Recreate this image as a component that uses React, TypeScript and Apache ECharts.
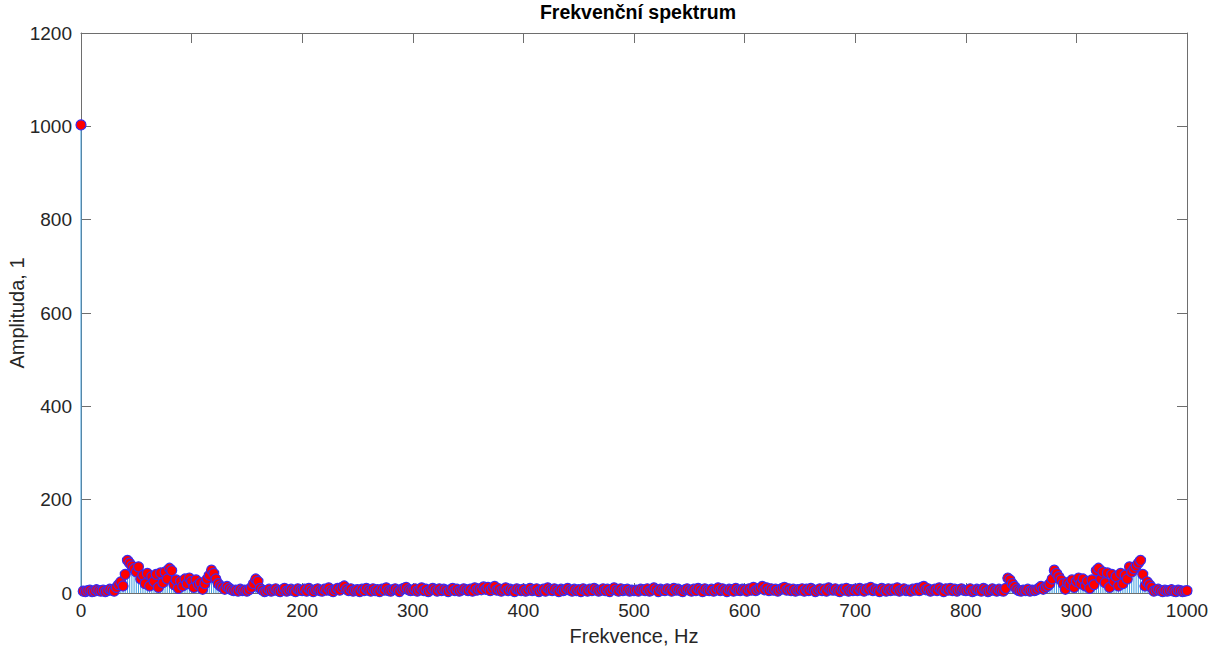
import React, { useEffect, useRef } from "react";
import * as echarts from "echarts";

// Frequency grid step (Hz) – sample spacing of the spectrum
const FREQ_STEP = 2;

// Amplitudes, f = 0, 2, 4, ... , 1000 Hz
const AMP_0_198 = [
  1003, 4, 3, 5, 6, 3, 4, 7, 5, 4, 6, 3, 5, 8, 6, 4, 12, 18, 24, 15, 40, 70, 64, 58, 52,
  45, 56, 30, 38, 20, 42, 15, 35, 25, 40, 12, 43, 22, 45, 30, 53, 48, 18, 28, 10, 25, 15, 30, 20, 32,
  25, 12, 28, 18, 22, 8, 20, 30, 38, 49, 42, 30, 20, 15, 12, 8, 14, 10, 7, 5, 6, 4, 8, 5, 6,
  4, 7, 12, 20, 30, 25, 10, 6, 3, 5, 8, 4, 6, 9, 5, 3, 7, 10, 4, 6, 8, 5, 3, 9, 6,
];
const AMP_200_798 = [
  5, 8, 4, 10, 6, 3, 7, 9, 5, 4, 8, 6, 11, 5, 3, 7, 10, 6, 12, 15, 8, 5, 9, 4, 6,
  7, 3, 8, 5, 10, 6, 4, 9, 5, 7, 3, 8, 6, 11, 5, 4, 7, 9, 6, 3, 8, 10, 12, 7, 5,
  6, 9, 4, 7, 11, 5, 8, 3, 6, 10, 7, 4, 9, 5, 8, 6, 3, 7, 10, 5, 8, 4, 6, 9, 7,
  5, 8, 4, 11, 6, 9, 7, 13, 8, 12, 5, 10, 14, 6, 9, 4, 7, 11, 5, 8, 6, 3, 9, 7, 5,
  8, 4, 6, 10, 5, 7, 9, 3, 6, 8, 4, 11, 7, 5, 9, 6, 3, 8, 5, 7, 10, 6, 4, 8, 5,
  7, 3, 9, 6, 4, 8, 5, 10, 7, 4, 6, 9, 5, 8, 3, 7, 11, 6, 4, 9, 5, 7, 8, 4, 6,
  5, 6, 4, 8, 7, 5, 9, 4, 6, 11, 7, 3, 8, 6, 5, 9, 7, 4, 10, 6, 8, 5, 3, 7, 9,
  6, 4, 8, 5, 10, 7, 3, 9, 6, 5, 8, 4, 7, 11, 5, 9, 6, 3, 8, 7, 4, 10, 6, 5, 8,
  7, 4, 9, 6, 12, 5, 8, 10, 14, 7, 11, 5, 9, 6, 8, 4, 7, 10, 12, 6, 9, 5, 8, 4, 7,
  6, 9, 4, 8, 5, 10, 7, 3, 6, 9, 5, 8, 4, 11, 7, 6, 9, 5, 3, 8, 6, 10, 4, 7, 5,
  8, 5, 10, 6, 4, 9, 7, 12, 5, 8, 6, 3, 10, 7, 4, 9, 5, 8, 6, 11, 4, 7, 9, 5, 6,
  4, 8, 6, 10, 5, 12, 14, 7, 9, 4, 6, 8, 5, 11, 7, 3, 9, 6, 10, 5, 8, 4, 7, 9, 6,
];
const AMP_800_1000 = [
  5, 6, 9, 3, 5, 8, 6, 4, 10, 7, 3, 5, 9, 6, 4, 8, 5, 4, 10, 32, 28, 20, 14, 8, 5,
  4, 6, 5, 8, 4, 6, 5, 7, 10, 14, 8, 12, 15, 20, 30, 49, 42, 35, 28, 20, 8, 22, 18, 28, 12,
  25, 32, 20, 30, 15, 25, 10, 28, 18, 48, 53, 30, 45, 22, 43, 12, 40, 25, 35, 15, 42, 20, 38, 30, 56,
  45, 52, 58, 64, 70, 40, 15, 24, 18, 12, 4, 6, 8, 5, 3, 6, 4, 5, 7, 4, 3, 6, 5, 3, 4,
  5,
];

const AMPLITUDES = [...AMP_0_198, ...AMP_200_798, ...AMP_800_1000];

const X_TICKS = { min: 0, max: 1000, interval: 100 };
const Y_TICKS = { min: 0, max: 1200, interval: 200 };

const TEXT = "#262626";
const AXIS = "#6e6e6e";
const FONT = "'Liberation Sans', Arial, Helvetica, sans-serif";

export default function App() {
  const ref = useRef<HTMLDivElement>(null);

  useEffect(() => {
    if (!ref.current) return;
    const chart = echarts.init(ref.current, undefined, { renderer: "svg" });
    const data = AMPLITUDES.map((a, i) => [i * FREQ_STEP, a]);

    const axisCommon = {
      axisLine: { show: true, onZero: false, lineStyle: { color: AXIS, width: 1 } },
      axisTick: { show: true, inside: true, length: 10, lineStyle: { color: AXIS } },
      splitLine: { show: false },
    };
    const fmt = (v: number) => String(v);

    chart.setOption({
      animation: false,
      backgroundColor: "#ffffff",
      textStyle: { fontFamily: FONT },
      title: {
        text: "Frekvenční spektrum",
        left: 638,
        top: 2,
        padding: 0,
        textAlign: "center",
        textStyle: { fontFamily: FONT, fontSize: 19.5, fontWeight: "bold", color: "#000" },
      },
      grid: {
        left: 81,
        right: 40,
        top: 33,
        bottom: 62,
        containLabel: false,
        outerBoundsMode: "none",
      },
      xAxis: [
        {
          type: "value",
          position: "bottom",
          ...X_TICKS,
          ...axisCommon,
          name: "Frekvence, Hz",
          nameLocation: "middle",
          nameGap: 33,
          nameMoveOverlap: false,
          nameTextStyle: { fontFamily: FONT, fontSize: 20, color: TEXT },
          axisLabel: { fontFamily: FONT, fontSize: 19, color: TEXT, margin: 8, formatter: fmt },
        },
        {
          type: "value",
          position: "top",
          ...X_TICKS,
          ...axisCommon,
          axisLabel: { show: false },
        },
      ],
      yAxis: [
        {
          type: "value",
          position: "left",
          ...Y_TICKS,
          ...axisCommon,
          name: "Amplituda, 1",
          nameLocation: "middle",
          nameGap: 54,
          nameMoveOverlap: false,
          nameTextStyle: { fontFamily: FONT, fontSize: 20, color: TEXT },
          axisLabel: { fontFamily: FONT, fontSize: 19, color: TEXT, margin: 9, formatter: fmt },
        },
        {
          type: "value",
          position: "right",
          ...Y_TICKS,
          ...axisCommon,
          axisLabel: { show: false },
        },
      ],
      series: [
        {
          type: "custom",
          xAxisIndex: 0,
          yAxisIndex: 0,
          data,
          clip: false,
          renderItem: (params: any, api: any) => {
            const p0 = api.coord([api.value(0), 0]);
            const p1 = api.coord([api.value(0), api.value(1)]);
            return {
              type: "line",
              shape: { x1: p0[0], y1: p0[1], x2: p1[0], y2: p1[1] },
              style: { stroke: "#3f9fdf", lineWidth: 1 },
            };
          },
          z: 2,
        },
        {
          type: "scatter",
          xAxisIndex: 0,
          yAxisIndex: 0,
          data,
          clip: false,
          symbol: "circle",
          symbolSize: 10,
          itemStyle: { color: "#ff0000", borderColor: "#3a2cf0", borderWidth: 1.2, opacity: 1 },
          z: 3,
        },
      ],
    });

    return () => chart.dispose();
  }, []);

  return (
    <div
      ref={ref}
      style={{ position: "absolute", left: 0, top: 0, width: 1227, height: 655, background: "#fff" }}
    />
  );
}
